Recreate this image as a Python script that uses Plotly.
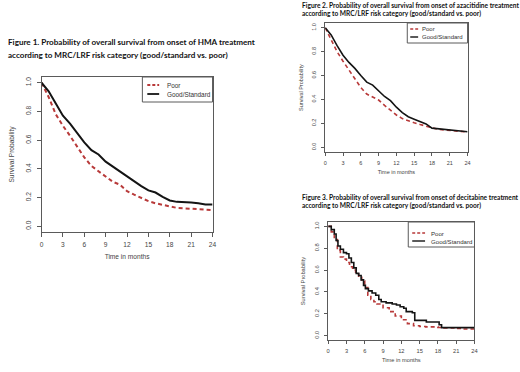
import plotly.graph_objects as go

# ---------------- data ----------------
months = [0, 1, 2, 3, 4, 5, 6, 7, 8, 9, 10, 11, 12, 13, 14, 15, 16, 17, 18, 19, 20, 21, 22, 23, 24]

# Figure 1 (HMA)
hma_good = [1.0, 0.94, 0.855, 0.77, 0.715, 0.65, 0.585, 0.53, 0.50, 0.45, 0.415, 0.385, 0.35,
            0.31, 0.28, 0.25, 0.235, 0.205, 0.18, 0.17, 0.17, 0.165, 0.16, 0.152, 0.152]
hma_poor = [1.0, 0.90, 0.78, 0.70, 0.63, 0.55, 0.48, 0.42, 0.385, 0.35, 0.31, 0.29, 0.245,
            0.22, 0.195, 0.175, 0.16, 0.148, 0.138, 0.128, 0.125, 0.122, 0.118, 0.115, 0.113]

# Figure 2 (azacitidine)
aza_good = [1.0, 0.94, 0.85, 0.77, 0.71, 0.66, 0.60, 0.545, 0.52, 0.475, 0.425, 0.39, 0.335,
            0.29, 0.255, 0.235, 0.215, 0.195, 0.16, 0.155, 0.15, 0.145, 0.135, 0.13, 0.13]
aza_poor = [1.0, 0.90, 0.80, 0.72, 0.645, 0.57, 0.50, 0.445, 0.42, 0.395, 0.35, 0.31, 0.27,
            0.24, 0.22, 0.205, 0.19, 0.175, 0.16, 0.15, 0.145, 0.14, 0.135, 0.13, 0.128]

# Figure 3 (decitabine) - step times and survival
dec_good_t = [0, 0.5, 1.0, 1.3, 1.6, 2.0, 2.5, 3.0, 3.4, 3.8, 4.2, 4.6, 5.0, 5.4, 5.8, 6.1, 6.6,
              7.2, 7.8, 8.3, 8.7, 9.5, 10.5, 11.2, 11.8, 12.4, 12.8, 13.8, 14.2, 16.1, 18.2, 18.6, 24]
dec_good_s = [1.0, 0.97, 0.93, 0.87, 0.82, 0.79, 0.76, 0.75, 0.71, 0.67, 0.62, 0.57, 0.55, 0.51,
              0.46, 0.43, 0.41, 0.39, 0.37, 0.33, 0.31, 0.30, 0.29, 0.28, 0.265, 0.25, 0.22,
              0.21, 0.14, 0.125, 0.10, 0.073, 0.073]
dec_poor_t = [0, 0.5, 1.0, 1.5, 2.0, 2.5, 3.0, 3.5, 4.0, 4.5, 5.0, 5.5, 6.0, 6.5, 7.0, 7.5, 8.0,
              9.0, 10.0, 11.0, 12.0, 13.0, 14.0, 15.0, 16.0, 18.0, 19.0, 21.0, 22.0, 24]
dec_poor_s = [1.0, 0.95, 0.88, 0.78, 0.72, 0.70, 0.67, 0.63, 0.60, 0.565, 0.535, 0.50, 0.44,
              0.37, 0.33, 0.31, 0.29, 0.255, 0.22, 0.18, 0.145, 0.11, 0.09, 0.083, 0.08, 0.075,
              0.07, 0.065, 0.06, 0.06]

x_ticks = [0, 3, 6, 9, 12, 15, 18, 21, 24]
y_ticks = [0.0, 0.2, 0.4, 0.6, 0.8, 1.0]
series_names = ["Poor", "Good/Standard"]

titles = [
    ("Figure 1. Probability of overall survival from onset of HMA treatment",
     "according to MRC/LRF risk category (good/standard vs. poor)"),
    ("Figure 2. Probability of overall survival from onset of azacitidine treatment",
     "according to MRC/LRF risk category (good/standard vs. poor)"),
    ("Figure 3. Probability of overall survival from onset of decitabine treatment",
     "according to MRC/LRF risk category (good/standard vs. poor)"),
]

# ---------------- style ----------------
W, H = 520, 372
RED = "#b83a3a"
BLACK = "#141414"
AXC = "#5a5a5a"
TXT = "#444"
FONT = "Liberation Sans"
TFONT = "Lato"


def px(x):
    return x / W


def py(y):
    return 1 - y / H


# panel boxes in pixels (left, right, top, bottom) and legend geometry
panels = [
    dict(l=40, r=213, t=77, b=232, fs=6.6, lw=2.0, shape="linear", tl=4,
         leg=dict(l=142, b=102, rows=(85, 94), s0=147, s1=159, tx=165, fs=6.4)),
    dict(l=327, r=471, t=23, b=152, fs=5.5, lw=1.6, shape="linear", tl=3,
         leg=dict(l=410, b=43, rows=(29, 37), s0=413, s1=421, tx=423, fs=6.0)),
    dict(l=330, r=478, t=222, b=340, fs=5.7, lw=1.6, shape="hv", tl=3,
         leg=dict(l=411, b=247, rows=(233, 241), s0=415, s1=428, tx=432, fs=6.1)),
]

data = [
    ((months, hma_poor), (months, hma_good)),
    ((months, aza_poor), (months, aza_good)),
    ((dec_poor_t, dec_poor_s), (dec_good_t, dec_good_s)),
]
styles = [dict(color=RED, dash="4px,3px"), dict(color=BLACK, dash="solid")]

fig = go.Figure()
layout = dict(
    width=W, height=H,
    margin=dict(l=0, r=0, t=0, b=0),
    paper_bgcolor="white", plot_bgcolor="white",
    showlegend=False,
    annotations=[], shapes=[],
)

for i, (p, d) in enumerate(zip(panels, data)):
    n = "" if i == 0 else str(i + 1)
    xa, ya = "x" + n, "y" + n
    for (tt, ss), name, st in zip(d, series_names, styles):
        fig.add_trace(go.Scatter(
            x=tt, y=ss, mode="lines", name=name, xaxis=xa, yaxis=ya,
            line=dict(color=st["color"], width=p["lw"], dash=st["dash"], shape=p["shape"]),
        ))
    common = dict(showline=True, linecolor=AXC, linewidth=1, mirror=True,
                  ticks="outside", tickcolor=AXC, ticklen=p["tl"],
                  showgrid=False, zeroline=False,
                  tickfont=dict(family=FONT, size=p["fs"], color=TXT))
    layout["xaxis" + n] = dict(
        common, domain=[px(p["l"]), px(p["r"])], range=[0, 24],
        tickvals=x_ticks, anchor=ya, ticklabelstandoff=2,
        title=dict(text="Time in months", font=dict(family=FONT, size=p["fs"], color=TXT),
                   standoff=7 if i == 0 else 5),
    )
    layout["yaxis" + n] = dict(
        common, domain=[py(p["b"]), py(p["t"])], range=[-0.04, 1.04],
        tickvals=y_ticks, tickformat=".1f", tickangle=-90, anchor=xa,
        ticklabelstandoff=3,
        title=dict(text="Survival Probability", font=dict(family=FONT, size=p["fs"], color=TXT),
                   standoff=9 if i == 0 else 7),
    )
    # legend box
    lgd = p["leg"]
    layout["shapes"].append(dict(
        type="rect", xref="paper", yref="paper",
        x0=px(lgd["l"]), x1=px(p["r"]), y0=py(lgd["b"]), y1=py(p["t"]),
        line=dict(color=AXC, width=1), fillcolor="white", layer="above",
    ))
    for name, st, ry in zip(series_names, styles, lgd["rows"]):
        layout["shapes"].append(dict(
            type="line", xref="paper", yref="paper",
            x0=px(lgd["s0"]), x1=px(lgd["s1"]), y0=py(ry), y1=py(ry),
            line=dict(color=st["color"], width=p["lw"] - 0.2,
                      dash="3px,2px" if st["dash"] != "solid" else "solid"),
            layer="above",
        ))
        layout["annotations"].append(dict(
            text=name, xref="paper", yref="paper", x=px(lgd["tx"]), y=py(ry),
            xanchor="left", yanchor="middle", showarrow=False,
            font=dict(family=FONT, size=lgd["fs"], color="#333"),
        ))

# titles
title_pos = [(4, 42, 55, 8.1), (301, 5, 14, 6.6), (301, 197, 206, 6.6)]
for (l1, l2), (x0, y1, y2, fs) in zip(titles, title_pos):
    for txt, yy in ((l1, y1), (l2, y2)):
        layout["annotations"].append(dict(
            text="<b>" + txt + "</b>", xref="paper", yref="paper",
            x=px(x0), y=py(yy), xanchor="left", yanchor="middle", showarrow=False,
            font=dict(family=TFONT, size=fs, color="#111"),
        ))

fig.update_layout(**layout)
fig.write_html("out.html", config={"displayModeBar": False},
               post_script="document.body.style.margin='0px';")
